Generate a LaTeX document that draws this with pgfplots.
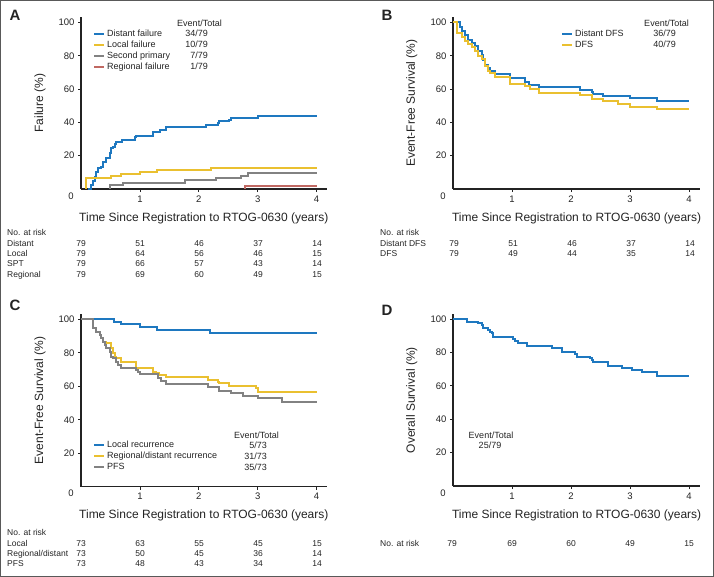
\documentclass[border=0pt]{standalone}
\usepackage{pgfplots}
\pgfplotsset{compat=1.18}
\usepackage{fontspec}
\setmainfont{Liberation Sans}
\definecolor{cblue}{RGB}{30,120,192}
\definecolor{cgold}{RGB}{234,192,48}
\definecolor{cgray}{RGB}{130,130,130}
\definecolor{cred}{RGB}{192,104,98}
\definecolor{txt}{RGB}{35,35,35}
\newcommand{\fs}[1]{\fontsize{#1}{#1}\selectfont}
\pgfplotsset{
 km/.style={
  scale only axis, axis lines=left,
  axis line style={-, line width=1.1pt, txt},
  xmin=0, ymin=0, ymax=103,
  xtick={1,2,3,4}, ytick={20,40,60,80,100},
  extra x ticks={0},
  extra x tick style={major tick length=0pt, tick label style={xshift=-10pt}},
  tick align=outside, major tick length=3pt,
  tick style={txt, line width=0.7pt},
  tick label style={font=\fs{9.5}, text=txt},
  /pgf/number format/assume math mode=true,
  xlabel={Time Since Registration to RTOG-0630 (years)},
  xlabel style={font=\fs{12}, text=txt, at={(axis description cs:0.5,0)}, anchor=center, yshift=-29pt},
  ylabel style={font=\fs{12}, text=txt, at={(axis description cs:-0.167,0.5)}, anchor=center},
  clip=false,
  legend cell align=left,
  legend image code/.code={\draw[##1, line width=1.8pt] (0pt,0pt) -- (10pt,0pt);},
  legend style={draw=none, fill=none, font=\fs{9}, text=txt, anchor=north west, inner sep=0pt, row sep=0pt, column sep=1pt, nodes={inner sep=1pt, text height=7pt, text depth=2pt}},
  every axis plot post/.append style={const plot, line width=2pt, mark=none},
 },
}
\begin{document}
\begin{tikzpicture}
\path[use as bounding box] (0pt,0pt) rectangle (714pt,-577pt);
\draw[line width=1.2pt, black!65] (0.6pt,-0.6pt) rectangle (713.4pt,-576.4pt);

% ---------------- Panel A ----------------
\begin{axis}[km, at={(81pt,-189pt)}, anchor=south west, width=245.6pt, height=171.5pt, xmax=4.17,
  ylabel={Failure (\%)}, legend style={at={(0.049,0.936)}}]
\addplot[cblue] coordinates {(0.12,0)(0.17,2.5)(0.2,5)(0.23,7.5)(0.26,10.4)(0.29,12.5)(0.34,13.5)(0.37,16.5)(0.43,18.4)(0.49,21.4)(0.51,24.4)(0.54,25.4)(0.57,27)(0.6,28.4)(0.7,29.4)(0.91,31.4)(0.94,32)(1.22,34.4)(1.34,35.4)(1.45,37)(2.13,38.5)(2.33,39.5)(2.35,41)(2.52,41.5)(2.55,42.4)(3.0,43.8)(4.0,43.8)};
\addlegendentry{Distant failure}
\addplot[cgold] coordinates {(0.085,0)(0.085,6.4)(0.51,7.7)(0.68,9)(1.0,10.3)(1.29,11.6)(2.2,12.9)(4.0,12.9)};
\addlegendentry{Local failure}
\addplot[cgray] coordinates {(0.5,0)(0.5,2.4)(0.72,3.7)(1.77,5.2)(2.3,6.5)(2.72,7.9)(2.84,9.4)(4.0,9.4)};
\addlegendentry{Second primary}
\addplot[cred] coordinates {(2.78,0)(2.78,1.6)(4.0,1.6)};
\addlegendentry{Regional failure}
\end{axis}

% ---------------- Panel B ----------------
\begin{axis}[km, at={(453pt,-189pt)}, anchor=south west, width=247.2pt, height=171.5pt, xmax=4.19,
  ylabel={Event-Free Survival (\%)}, legend style={at={(0.437,0.936)}}]
\addplot[cblue] coordinates {(0,100)(0.12,97)(0.15,95)(0.2,92.7)(0.26,89.7)(0.32,87.7)(0.37,85.7)(0.43,82.7)(0.49,80.7)(0.51,77.7)(0.54,74.7)(0.6,72.7)(0.63,70.7)(0.71,69)(0.97,66.5)(1.22,64.3)(1.28,62.7)(1.45,61.1)(2.15,59.5)(2.35,58.3)(2.38,57)(2.55,55.8)(3.0,54.4)(3.45,52.6)(4.0,52.6)};
\addlegendentry{Distant DFS}
\addplot[cgold] coordinates {(0,100)(0.06,93.5)(0.15,91)(0.2,89)(0.26,87)(0.32,85)(0.37,83)(0.43,80)(0.49,78)(0.54,74)(0.6,71)(0.63,69.5)(0.72,67)(0.97,63)(1.22,62)(1.3,60)(1.45,57.8)(2.15,56.5)(2.35,54)(2.55,52.6)(2.8,51)(3.0,49.4)(3.45,48)(4.0,48)};
\addlegendentry{DFS}
\end{axis}

% ---------------- Panel C ----------------
\begin{axis}[km, at={(81pt,-486.7pt)}, anchor=south west, width=245.6pt, height=172.4pt, xmax=4.17,
  ylabel={Event-Free Survival (\%)}, legend style={at={(0.049,0.274)}}]
\addplot[cblue] coordinates {(0,100)(0.56,98.4)(0.68,97)(1.0,95.5)(1.29,93.8)(2.19,92.1)(4.0,92.1)};
\addlegendentry{Local recurrence}
\addplot[cgold] coordinates {(0,100)(0.2,94.6)(0.26,92.6)(0.32,90.6)(0.345,88.6)(0.37,86.6)(0.43,85.7)(0.51,82.7)(0.54,79.7)(0.57,77.7)(0.6,76.7)(0.68,74.7)(0.94,71.1)(1.22,68.7)(1.28,67.7)(1.33,66.7)(1.45,65.3)(2.15,63.7)(2.32,62.7)(2.35,61.7)(2.52,60.1)(2.97,58.7)(3.0,56.3)(4.0,56.3)};
\addlegendentry{Regional/distant recurrence}
\addplot[cgray] coordinates {(0,100)(0.2,94.6)(0.26,92.6)(0.32,90.6)(0.345,88.6)(0.37,86.6)(0.4,84.6)(0.43,82.7)(0.49,80.6)(0.51,77.7)(0.54,76.7)(0.6,74.7)(0.63,72.7)(0.68,71)(0.94,69.7)(0.97,68.3)(1.0,67.1)(1.31,64.7)(1.36,63.3)(1.45,61.3)(2.15,59.7)(2.35,57.3)(2.55,55.8)(2.75,54.4)(3.0,52.8)(3.42,50.8)(4.0,50.8)};
\addlegendentry{PFS}
\end{axis}

% ---------------- Panel D ----------------
\begin{axis}[km, at={(453pt,-486pt)}, anchor=south west, width=247.2pt, height=172pt, xmax=4.19,
  ylabel={Overall Survival (\%)}]
\addplot[cblue] coordinates {(0,100)(0.23,98.4)(0.43,97.4)(0.49,96.4)(0.51,94.8)(0.57,94.4)(0.6,93.4)(0.63,92.4)(0.66,91.4)(0.68,89.4)(1.02,88)(1.05,86.8)(1.11,85.4)(1.25,84)(1.67,82.8)(1.84,80.4)(2.07,78.8)(2.1,77.4)(2.32,76.8)(2.35,75.4)(2.38,74)(2.63,72)(2.86,70.8)(3.03,69.4)(3.2,68)(3.45,66)(4.0,66)};
\end{axis}

% panel letters
\begin{scope}[every node/.style={font=\fs{15}\bfseries, text=txt}]
\node at (15pt,-15pt) {A};
\node at (387pt,-15pt) {B};
\node at (15pt,-305pt) {C};
\node at (387pt,-310pt) {D};
\end{scope}

% legend counts
\begin{scope}[every node/.style={font=\fs{9}, text=txt, inner sep=0pt}]
\node[anchor=base] at (199.5pt,-27pt) {Event/Total};
\node[anchor=base east] at (208pt,-37pt) {34/79};
\node[anchor=base east] at (208pt,-48pt) {10/79};
\node[anchor=base east] at (208pt,-59pt) {7/79};
\node[anchor=base east] at (208pt,-70pt) {1/79};
\node[anchor=base] at (666.5pt,-27pt) {Event/Total};
\node[anchor=base east] at (676pt,-37pt) {36/79};
\node[anchor=base east] at (676pt,-48pt) {40/79};
\node[anchor=base] at (256.5pt,-438pt) {Event/Total};
\node[anchor=base east] at (267pt,-448pt) {5/73};
\node[anchor=base east] at (267pt,-459pt) {31/73};
\node[anchor=base east] at (267pt,-470pt) {35/73};
\node[anchor=base] at (491pt,-438pt) {Event/Total};
\node[anchor=base] at (490pt,-448pt) {25/79};
\end{scope}

% number at risk tables
\begin{scope}[every node/.style={font=\fs{8.5}, text=txt, inner sep=0pt}]
% A
\node[anchor=base west] at (7pt,-236pt) {No. at risk};
\node[anchor=base west] at (7pt,-246.5pt) {Distant};
\node[anchor=base west] at (7pt,-256.5pt) {Local};
\node[anchor=base west] at (7pt,-266.5pt) {SPT};
\node[anchor=base west] at (7pt,-277pt) {Regional};
\foreach \x/\a/\b/\c/\d in {81/79/79/79/79, 140/51/64/66/69, 199/46/56/57/60, 258/37/46/43/49, 317/14/15/14/15}{
  \node[anchor=base] at (\x pt,-246.5pt) {\a};
  \node[anchor=base] at (\x pt,-256.5pt) {\b};
  \node[anchor=base] at (\x pt,-266.5pt) {\c};
  \node[anchor=base] at (\x pt,-277pt) {\d};
}
% B
\node[anchor=base west] at (380pt,-236pt) {No. at risk};
\node[anchor=base west] at (380pt,-246.5pt) {Distant DFS};
\node[anchor=base west] at (380pt,-256.5pt) {DFS};
\foreach \x/\a/\b in {454/79/79, 513/51/49, 572/46/44, 631/37/35, 690/14/14}{
  \node[anchor=base] at (\x pt,-246.5pt) {\a};
  \node[anchor=base] at (\x pt,-256.5pt) {\b};
}
% C
\node[anchor=base west] at (7pt,-535pt) {No. at risk};
\node[anchor=base west] at (7pt,-546pt) {Local};
\node[anchor=base west] at (7pt,-556.5pt) {Regional/distant};
\node[anchor=base west] at (7pt,-566.5pt) {PFS};
\foreach \x/\a/\b/\c in {81/73/73/73, 140/63/50/48, 199/55/45/43, 258/45/36/34, 317/15/14/14}{
  \node[anchor=base] at (\x pt,-546pt) {\a};
  \node[anchor=base] at (\x pt,-556.5pt) {\b};
  \node[anchor=base] at (\x pt,-566.5pt) {\c};
}
% D
\node[anchor=base west] at (380pt,-546pt) {No. at risk};
\foreach \x/\a in {452/79, 512/69, 571/60, 630/49, 689/15}{
  \node[anchor=base] at (\x pt,-546pt) {\a};
}
\end{scope}
\end{tikzpicture}
\end{document}
